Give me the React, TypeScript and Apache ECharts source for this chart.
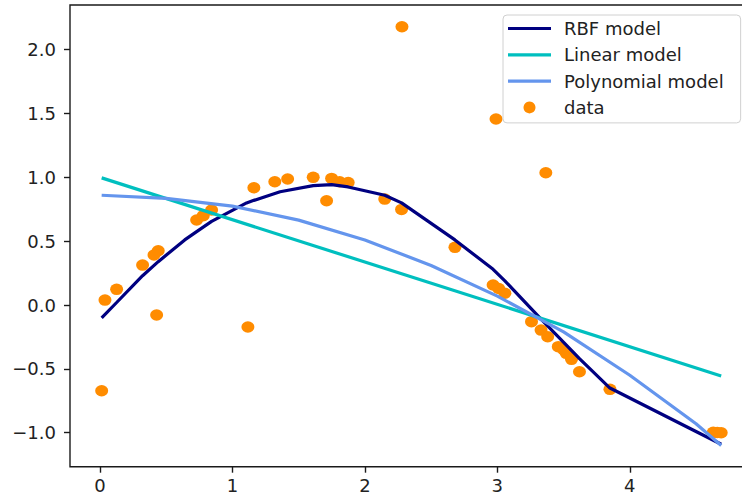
import React, { useEffect, useRef } from "react";
import * as echarts from "echarts";

const dataX = [0.013, 0.038, 0.126, 0.322, 0.408, 0.428, 0.44, 0.73, 0.78, 0.843, 1.117, 1.162, 1.32, 1.417, 1.61, 1.711, 1.749, 1.81, 1.874, 2.15, 2.277, 2.28, 2.68, 2.968, 2.99, 3.01, 3.057, 3.258, 3.33, 3.366, 3.38, 3.46, 3.5, 3.52, 3.56, 3.62, 3.85, 4.63, 4.66, 4.69];
const dataY = [-0.671, 0.039, 0.123, 0.313, 0.392, -0.078, 0.425, 0.666, 0.7, 0.744, -0.172, 0.919, 0.966, 0.987, 1.0, 0.817, 0.992, 0.966, 0.96, 0.83, 0.749, 2.18, 0.452, 0.157, 1.457, 0.13, 0.092, -0.13, -0.196, 1.036, -0.248, -0.326, -0.35, -0.378, -0.425, -0.522, -0.66, -0.997, -0.998, -1.0];

const rbfX = [0.013, 0.126, 0.322, 0.44, 0.64, 0.73, 0.843, 1.107, 1.162, 1.36, 1.61, 1.749, 1.874, 2.15, 2.277, 2.68, 2.968, 3.057, 3.33, 3.62, 3.85, 4.69];
const rbfY = [-0.1, 0.02, 0.23, 0.34, 0.51, 0.575, 0.655, 0.8, 0.82, 0.887, 0.935, 0.943, 0.925, 0.86, 0.8, 0.51, 0.28, 0.19, -0.11, -0.42, -0.65, -1.09];

const linX = [0.013, 4.69];
const linY = [0.996, -0.555];

const polyX = [0.013, 0.5, 1.0, 1.5, 2.0, 2.5, 3.0, 3.5, 4.0, 4.5, 4.69];
const polyY = [0.86, 0.835, 0.775, 0.665, 0.51, 0.31, 0.07, -0.21, -0.55, -0.93, -1.1];

const xTicks = [0, 1, 2, 3, 4];
const yTicks = [-1, -0.5, 0, 0.5, 1, 1.5, 2];

const zip = (xs: number[], ys: number[]) => xs.map((x, i) => [x, ys[i]]);

const FONT = "DejaVu Sans";
const TXT = "#222";
const SPINE = "#1a1a1a";
const LINE_ICON = "path://M0,0H40V3H0Z";

export default function App() {
  const ref = useRef<HTMLDivElement>(null);
  useEffect(() => {
    const chart = echarts.init(ref.current!, null, { renderer: "svg" });
    chart.setOption({
      animation: false,
      backgroundColor: "#fff",
      textStyle: { fontFamily: FONT },
      grid: {
        left: 70,
        top: 5,
        right: 7,
        bottom: 28.3,
        show: true,
        borderColor: SPINE,
        borderWidth: 1.4,
        backgroundColor: "transparent",
      },
      xAxis: {
        type: "value",
        min: -0.226,
        max: 4.93,
        splitLine: { show: false },
        axisLine: { show: false, onZero: false },
        axisTick: {
          show: true,
          length: 6,
          customValues: xTicks,
          lineStyle: { color: SPINE, width: 1.4 },
        },
        axisLabel: {
          customValues: xTicks,
          margin: 10,
          fontSize: 18,
          fontFamily: FONT,
          color: TXT,
          formatter: (v: number) => String(v),
        },
      },
      yAxis: {
        type: "value",
        min: -1.266,
        max: 2.35,
        splitLine: { show: false },
        axisLine: { show: false, onZero: false },
        axisTick: {
          show: true,
          length: 6,
          customValues: yTicks,
          lineStyle: { color: SPINE, width: 1.4 },
        },
        axisLabel: {
          customValues: yTicks,
          margin: 14,
          fontSize: 18,
          fontFamily: FONT,
          color: TXT,
          formatter: (v: number) => (v < 0 ? "\u2212" : "") + Math.abs(v).toFixed(1),
        },
      },
      legend: {
        orient: "vertical",
        left: 503,
        top: 15,
        padding: [4, 17, 6, 5],
        itemWidth: 43,
        itemHeight: 12,
        itemGap: 7.3,
        symbolKeepAspect: true,
        backgroundColor: "rgba(255,255,255,0.8)",
        borderColor: "#d0d0d0",
        borderWidth: 1,
        borderRadius: 4,
        textStyle: {
          fontSize: 18,
          fontFamily: FONT,
          color: TXT,
          lineHeight: 19,
          padding: [0, 0, 0, 8],
        },
        data: [
          { name: "RBF model", icon: LINE_ICON },
          { name: "Linear model", icon: LINE_ICON },
          { name: "Polynomial model", icon: LINE_ICON },
          { name: "data", icon: "circle" },
        ],
      },
      series: [
        {
          name: "data",
          type: "scatter",
          data: zip(dataX, dataY),
          symbol: "path://M10,0 A10,10 0 1,1 10,20 A10,10 0 1,1 10,0 Z",
          symbolSize: [13, 11.5],
          itemStyle: { color: "#FF8C00", opacity: 1 },
          z: 1,
        },
        {
          name: "RBF model",
          type: "line",
          data: zip(rbfX, rbfY),
          symbol: "none",
          color: "#000080",
          itemStyle: { color: "#000080" },
          lineStyle: { color: "#000080", width: 3.2 },
          z: 2,
        },
        {
          name: "Linear model",
          type: "line",
          data: zip(linX, linY),
          symbol: "none",
          color: "#00BFBF",
          itemStyle: { color: "#00BFBF" },
          lineStyle: { color: "#00BFBF", width: 3.2 },
          z: 3,
        },
        {
          name: "Polynomial model",
          type: "line",
          data: zip(polyX, polyY),
          symbol: "none",
          color: "#6495ED",
          itemStyle: { color: "#6495ED" },
          lineStyle: { color: "#6495ED", width: 3.2 },
          z: 4,
        },
      ],
    });
    return () => chart.dispose();
  }, []);
  return (
    <div
      style={{
        position: "fixed",
        left: 0,
        top: 0,
        width: 742,
        height: 495,
        overflow: "hidden",
        background: "#fff",
      }}
    >
      <div ref={ref} style={{ width: 760, height: 495 }} />
    </div>
  );
}
